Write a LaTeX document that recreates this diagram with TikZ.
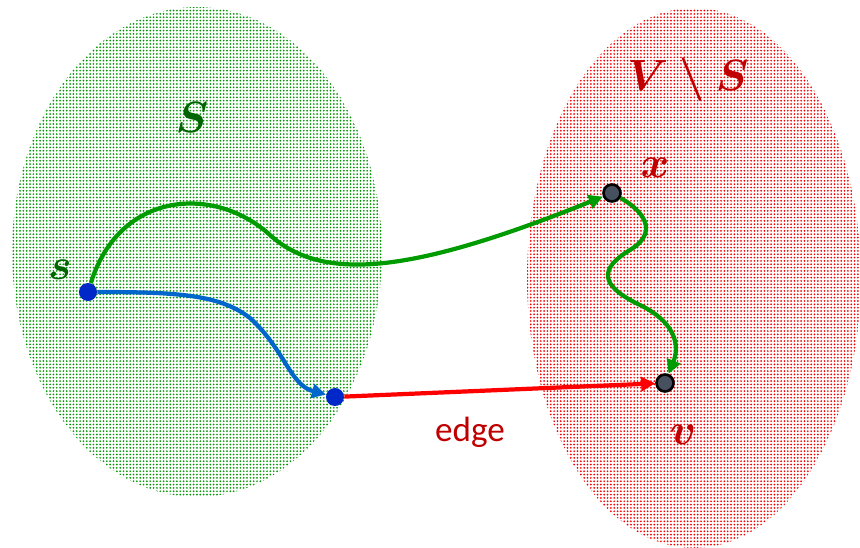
\documentclass[tikz,border=0pt]{standalone}
\usepackage{amsmath,amssymb}
\usepackage{fontspec}
\newfontfamily\edgefont{Carlito}
\definecolor{setgreen}{RGB}{0,150,0}
\definecolor{setred}{RGB}{240,0,0}
\definecolor{lblgreen}{RGB}{0,100,0}
\definecolor{lblred}{RGB}{192,0,0}
\definecolor{pathgreen}{RGB}{0,155,0}
\definecolor{pathblue}{RGB}{0,102,204}
\definecolor{dotblue}{RGB}{0,40,200}
\definecolor{dotgray}{RGB}{70,80,95}
\definecolor{edgered}{RGB}{255,0,0}
\usetikzlibrary{arrows.meta,patterns.meta,shapes.geometric}

\begin{document}
\begin{tikzpicture}[x=0.02cm, y=-0.02cm,
  setblob/.style={ellipse, inner sep=0pt, pattern={Dots[distance=1.9pt, radius=0.55pt]}},
  vtxblue/.style={circle, fill=dotblue, inner sep=0pt, minimum size=0.36cm},
  vtxgray/.style={circle, draw=black, line width=1.5pt, fill=dotgray, inner sep=0pt, minimum size=0.34cm},
  setlbl/.style={font=\fontsize{30}{32}\selectfont\boldmath},
  walk/.style={line width=2.4pt, -{Triangle[length=8pt, width=8pt]}}]
  \useasboundingbox (0,0) rectangle (860,548);

  %--- The two sets ---
  \node[setblob, pattern color=setgreen, minimum width=7.4cm, minimum height=9.8cm] (setS) at (197,252) {};
  \node[setblob, pattern color=setred, minimum width=6.68cm, minimum height=10.8cm] (setVS) at (694,278) {};

  \node[setlbl, text=lblgreen] (lblS) at (192,118) {$S$};
  \node[setlbl, text=lblred] (lblVS) at (688,80) {$V\setminus S$};

  %--- Vertices ---
  \node[vtxblue] (s) at (88,292) {};
  \node[vtxblue] (u) at (335,397) {};
  \node[vtxgray] (x) at (612,193) {};
  \node[vtxgray] (v) at (665,383) {};

  \node[setlbl, text=lblgreen] (lbls) at (60,270) {$s$};
  \node[setlbl, text=lblred] (lblx) at (655,168) {$x$};
  \node[setlbl, text=lblred] (lblv) at (683,435) {$v$};

  %--- Paths ---
  % s to x, leaving S
  \draw[walk, pathgreen] (s) .. controls (120,190) and (215,185) .. (270,235)
    .. controls (325,285) and (420,270) .. (x);
  % s to u, inside S
  \draw[walk, pathblue] (s) .. controls (180,292) and (220,295) .. (250,318)
    .. controls (285,350) and (290,385) .. (u);
  % x to v, inside V minus S
  \draw[walk, pathgreen] (x) .. controls (650,215) and (655,235) .. (630,250)
    .. controls (600,268) and (598,285) .. (640,305)
    .. controls (675,322) and (680,345) .. (v);

  % crossing edge
  \draw[walk, edgered] (u) -- (v);
  \node[font=\edgefont\fontsize{20}{22}\selectfont, text=lblred] (lbledge) at (470,432) {edge};
\end{tikzpicture}
\end{document}
